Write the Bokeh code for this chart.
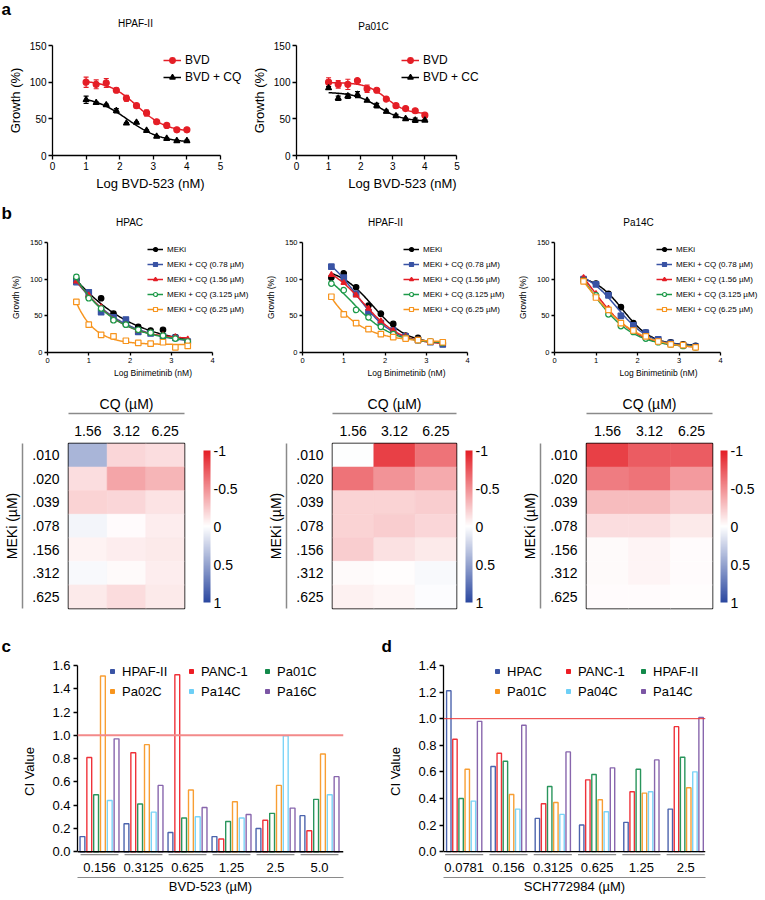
import numpy as np
from bokeh.plotting import figure
from bokeh.models import (ColumnDataSource, Legend, LegendItem, Span, FixedTicker,
                          LinearColorMapper, ColorBar, LinearAxis, Whisker, TeeHead, Range1d,
                          NumeralTickFormatter)
from bokeh.layouts import row, column
from bokeh.core.properties import value
from bokeh.embed import file_html
from bokeh.resources import INLINE

FONT = "Liberation Sans"

# ---------------- panel a data ----------------
a_logdose = [1.0, 1.3, 1.6, 1.9, 2.2, 2.5, 2.8, 3.1, 3.4, 3.7, 4.0]
a_xticks = [0, 1, 2, 3, 4, 5]
a_yticks = [0, 50, 100, 150]
a_hpaf_bvd = [100, 97, 99, 89, 78, 68, 58, 46, 41, 35, 35]
a_hpaf_bvd_err = [7, 6, 6, 3, 4, 2, 4, 2, 2, 1, 1]
a_hpaf_cq = [76, 72, 69, 61, 44, 45, 34, 26, 23, 20, 20]
a_hpaf_cq_err = [5, 1, 1, 3, 1, 1, 1, 1, 1, 1, 1]
a_pa01_bvd = [100, 97, 97, 102, 91, 89, 77, 68, 64, 61, 55]
a_pa01_bvd_err = [6, 5, 7, 1, 5, 2, 2, 2, 2, 2, 2]
a_pa01_cq = [92, 78, 81, 83, 75, 68, 60, 54, 50, 48, 48]
a_pa01_cq_err = [2, 3, 3, 4, 1, 3, 2, 2, 1, 3, 1]

# ---------------- panel b data ----------------
b_logdose = [0.7, 1.0, 1.3, 1.6, 1.9, 2.2, 2.5, 2.8, 3.1, 3.4]
b_xticks = [0, 1, 2, 3, 4]
b_yticks = [0, 50, 100, 150]
b_labels = ["MEKi", "MEKi + CQ (0.78 µM)", "MEKi + CQ (1.56 µM)",
            "MEKi + CQ (3.125 µM)", "MEKi + CQ (6.25 µM)"]
hpac_meki = [100, 76, 74, 53, 39, 35, 30, 31, 21, 14]
hpac_cq078 = [96, 82, 55, 48, 45, 28, 26, 22, 20, 15]
hpac_cq156 = [97, 78, 62, 44, 38, 30, 27, 24, 21, 18]
hpac_cq3125 = [103, 74, 60, 44, 38, 31, 27, 23, 19, 15]
hpac_cq625 = [69, 38, 24, 22, 16, 13, 12, 14, 7, 9]
hpaf_meki = [102, 108, 89, 64, 53, 39, 23, 20, 15, 12]
hpaf_cq078 = [117, 102, 80, 55, 40, 30, 22, 17, 14, 11]
hpaf_cq156 = [106, 95, 78, 60, 43, 30, 22, 17, 14, 12]
hpaf_cq3125 = [94, 85, 58, 48, 35, 25, 20, 17, 15, 13]
hpaf_cq625 = [76, 52, 40, 32, 25, 21, 19, 17, 15, 14]
pa14_meki = [100, 94, 80, 62, 40, 27, 18, 14, 11, 9]
pa14_cq078 = [100, 93, 78, 50, 37, 27, 18, 13, 10, 8]
pa14_cq156 = [102, 80, 60, 38, 30, 20, 15, 11, 9, 7]
pa14_cq3125 = [98, 78, 52, 36, 28, 19, 14, 11, 9, 7]
pa14_cq625 = [97, 75, 58, 40, 30, 22, 15, 11, 10, 7]

# ---------------- heatmap data (rows = MEKi, cols = CQ) ----------------
cq_labels = ["1.56", "3.12", "6.25"]
meki_labels = [".010", ".020", ".039", ".078", ".156", ".312", ".625"]
cbar_ticks = [-1, -0.5, 0, 0.5, 1]
hm_hpac = [[0.40, -0.18, -0.15], [-0.15, -0.40, -0.33], [-0.20, -0.18, -0.13],
           [0.05, -0.02, -0.08], [-0.06, -0.08, -0.10], [0.03, -0.03, -0.08],
           [-0.10, -0.16, -0.10]]
hm_hpaf = [[0.00, -0.85, -0.62], [-0.62, -0.48, -0.38], [-0.20, -0.20, -0.22],
           [-0.20, -0.22, -0.18], [-0.22, -0.14, -0.10], [-0.03, -0.01, 0.03],
           [-0.07, -0.04, 0.01]]
hm_pa14 = [[-0.85, -0.72, -0.72], [-0.58, -0.62, -0.45], [-0.30, -0.30, -0.22],
           [-0.15, -0.15, -0.10], [-0.03, -0.05, -0.02], [-0.03, -0.05, -0.02],
           [-0.02, -0.02, -0.01]]

# ---------------- panel c / d data ----------------
c_doses = ["0.156", "0.3125", "0.625", "1.25", "2.5", "5.0"]
c_lines = ["HPAF-II", "PANC-1", "Pa01C", "Pa02C", "Pa14C", "Pa16C"]
c_hpaf = [0.13, 0.24, 0.165, 0.13, 0.20, 0.31]
c_panc = [0.81, 0.85, 1.52, 0.11, 0.27, 0.18]
c_pa01 = [0.49, 0.41, 0.29, 0.26, 0.33, 0.45]
c_pa02 = [1.51, 0.92, 0.53, 0.43, 0.57, 0.84]
c_pa14 = [0.44, 0.34, 0.30, 0.29, 0.995, 0.49]
c_pa16 = [0.97, 0.57, 0.38, 0.32, 0.375, 0.645]
c_yticks = [0.0, 0.2, 0.4, 0.6, 0.8, 1.0, 1.2, 1.4, 1.6]

d_doses = ["0.0781", "0.156", "0.3125", "0.625", "1.25", "2.5"]
d_lines = ["HPAC", "PANC-1", "HPAF-II", "Pa01C", "Pa04C", "Pa14C"]
d_hpac = [1.21, 0.64, 0.25, 0.20, 0.22, 0.32]
d_panc = [0.845, 0.74, 0.36, 0.54, 0.45, 0.94]
d_hpaf = [0.40, 0.68, 0.49, 0.58, 0.62, 0.71]
d_pa01 = [0.62, 0.43, 0.37, 0.39, 0.44, 0.48]
d_pa04 = [0.38, 0.32, 0.28, 0.30, 0.45, 0.60]
d_pa14 = [0.98, 0.95, 0.75, 0.63, 0.69, 1.01]
d_yticks = [0.0, 0.2, 0.4, 0.6, 0.8, 1.0, 1.2, 1.4]

# panel letters and sub-panel titles
letters = ["a", "b", "c", "d"]
a_titles = ["HPAF-II", "Pa01C"]
b_titles = ["HPAC", "HPAF-II", "Pa14C"]

# ---------------- colours ----------------
RED = "#e41e26"
BLACK = "#000000"
BLUE = "#3953a4"
GREEN = "#1e9a4a"
ORANGE = "#f7941d"
SIX = ["#3953a4", "#ed1c24", "#12894a", "#f7941d", "#6dcff6", "#7b55a4"]

W = 762


def hexc(rgb):
    return "#%02x%02x%02x" % tuple(int(round(v)) for v in rgb)


def ramp(c0, c1, n):
    c0 = np.array(c0, float)
    c1 = np.array(c1, float)
    return [hexc(c0 + (c1 - c0) * t) for t in np.linspace(0, 1, n)]


heat_palette = ramp((228, 30, 38), (255, 255, 255), 128)[:-1] + ramp((255, 255, 255), (43, 72, 160), 129)
heat_mapper = LinearColorMapper(palette=heat_palette, low=-1, high=1)
cbar_mapper = LinearColorMapper(palette=list(reversed(heat_palette)), low=-1, high=1)


def base_fig(w, h, l, r, t, b, xr, yr, **kw):
    p = figure(width=w, height=h, x_range=xr, y_range=yr, output_backend="svg",
               toolbar_location=None, min_border_left=l, min_border_right=r,
               min_border_top=t, min_border_bottom=b, **kw)
    p.grid.visible = False
    p.outline_line_color = None
    p.background_fill_color = "white"
    p.border_fill_color = "white"
    return p


def style_axis(ax, tick_px, label_px, lw=1.3, tick_out=4):
    ax.axis_line_color = "black"
    ax.axis_line_width = lw
    ax.major_tick_line_color = "black"
    ax.major_tick_line_width = lw
    ax.major_tick_in = 0
    ax.major_tick_out = tick_out
    ax.minor_tick_line_color = None
    ax.major_label_text_font = FONT
    ax.major_label_text_font_size = tick_px
    ax.major_label_text_color = "black"
    ax.axis_label_text_font = FONT
    ax.axis_label_text_font_size = label_px
    ax.axis_label_text_font_style = "normal"
    ax.axis_label_text_color = "black"


def strip(h, y0, items):
    """Text strip: items = list of (x, y, text, size, bold, align) in page pixels (y = text middle)."""
    p = figure(width=W, height=h, x_range=Range1d(0, W), y_range=Range1d(y0 + h, y0),
               x_axis_type=None, y_axis_type=None, output_backend="svg",
               toolbar_location=None, min_border=0)
    p.grid.visible = False
    p.outline_line_color = None
    for x, y, txt, size, bold, align in items:
        p.text(x=[x], y=[y], text=[txt], text_font=value(FONT), text_font_size=size,
               text_font_style="bold" if bold else "normal", text_align=align,
               text_baseline="middle", text_color="black")
    return p


def fit_curve(x, y, n=150):
    """Least-squares four-parameter logistic fit of the plotted points."""
    x = np.asarray(x, float)
    y = np.asarray(y, float)
    cs = np.linspace(-1.0, 6.0, 281)[:, None, None]
    hs = np.linspace(0.3, 4.0, 75)[None, :, None]
    with np.errstate(all="ignore"):
        s = 1.0 / (1.0 + 10.0 ** ((x[None, None, :] - cs) * hs))
        sm = s.mean(axis=-1, keepdims=True)
        ym = y.mean()
        var = ((s - sm) ** 2).sum(axis=-1, keepdims=True)
        bb = ((s - sm) * (y - ym)).sum(axis=-1, keepdims=True) / var
        aa = ym - bb * sm
        sse = ((y - aa - bb * s) ** 2).sum(axis=-1)
    sse = np.where(np.isfinite(sse) & (var[..., 0] > 1e-6), sse, np.inf)
    i, j = np.unravel_index(np.argmin(sse), sse.shape)
    c = cs[i, 0, 0]
    h = hs[0, j, 0]
    A = aa[i, j, 0]
    B = bb[i, j, 0]
    xs = np.linspace(x.min(), x.max(), n)
    ys = A + B / (1.0 + 10.0 ** ((xs - c) * h))
    return xs, ys


def dose_panel(w, h, l, t, b, axis_px, xmax, xticks, yticks, xlab, tick_px, lab_px, tick_out,
               xdata, series, legend_xy, leg, msize, xl_standoff, yl_standoff):
    frame_w = w - l
    x_end = xmax * frame_w / axis_px
    p = base_fig(w, h, l, 0, t, b, Range1d(0, x_end), Range1d(0, 150))
    p.xaxis.ticker = FixedTicker(ticks=xticks)
    p.yaxis.ticker = FixedTicker(ticks=yticks)
    p.xaxis.bounds = (0, xmax)
    p.xaxis.axis_label = xlab
    p.yaxis.axis_label = "Growth (%)"
    for ax in p.axis:
        style_axis(ax, tick_px, lab_px, lw=1.3, tick_out=tick_out)
        ax.major_label_standoff = 2
    p.xaxis.axis_label_standoff = xl_standoff
    p.yaxis.axis_label_standoff = yl_standoff
    items = []
    for label, ys, err, color, marker, filled in series:
        xs_f, ys_f = fit_curve(xdata, ys)
        ln = p.line(xs_f, ys_f, line_color=color, line_width=1.5)
        d = dict(x=xdata, y=ys)
        if err is not None:
            d["lo"] = [v - e for v, e in zip(ys, err)]
            d["hi"] = [v + e for v, e in zip(ys, err)]
        src = ColumnDataSource(d)
        if err is not None:
            p.add_layout(Whisker(source=src, base="x", upper="hi", lower="lo",
                                 line_color=color, line_width=1.2,
                                 upper_head=TeeHead(size=5, line_color=color, line_width=1.2),
                                 lower_head=TeeHead(size=5, line_color=color, line_width=1.2)))
        sc = p.scatter("x", "y", source=src, marker=marker, size=msize,
                       fill_color=color if filled else "white", line_color=color,
                       line_width=1.2)
        items.append(LegendItem(label=label, renderers=[ln, sc]))
    lg = Legend(items=items, location=legend_xy, orientation="vertical",
                label_text_font=FONT, label_text_font_size=leg["font"],
                label_text_color="black", glyph_width=leg["gw"], glyph_height=leg["gh"],
                label_height=leg["lh"], spacing=leg["sp"], label_standoff=leg["st"],
                padding=0, margin=0, border_line_color=None, background_fill_alpha=0)
    p.add_layout(lg)
    return p


# ---------------- strip above row a (page y 0..33) ----------------
strip_a = strip(33, 0, [(1, 9, letters[0], "17px", True, "left"),
                        (135, 23, a_titles[0], "10px", False, "center"),
                        (373, 26, a_titles[1], "10px", False, "center")])

# ---------------- row a (page y 33..200) ----------------
leg_a = dict(font="12px", gw=18, gh=14, lh=14, sp=3, st=4)
a1 = dose_panel(248, 167, 52, 11, 45, 168, 5, a_xticks, a_yticks, "Log BVD-523 (nM)",
                "10px", "13px", 4, a_logdose,
                [("BVD", a_hpaf_bvd, a_hpaf_bvd_err, RED, "circle", True),
                 ("BVD + CQ", a_hpaf_cq, a_hpaf_cq_err, BLACK, "triangle", True)],
                (111, 71), leg_a, 6, 3, 4)
a2 = dose_panel(260, 167, 42, 12, 45, 165, 5, a_xticks, a_yticks, "Log BVD-523 (nM)",
                "10px", "13px", 4, a_logdose,
                [("BVD", a_pa01_bvd, a_pa01_bvd_err, RED, "circle", True),
                 ("BVD + CC", a_pa01_cq, a_pa01_cq_err, BLACK, "triangle", True)],
                (105, 71), leg_a, 6, 3, 4)

# ---------------- strip above row b (page y 200..230) ----------------
strip_b = strip(30, 200, [(1, 213, letters[1], "17px", True, "left"),
                          (129, 222, b_titles[0], "10px", False, "center"),
                          (385, 222, b_titles[1], "10px", False, "center"),
                          (638, 222, b_titles[2], "10px", False, "center")])

# ---------------- row b (page y 230..385) ----------------
leg_b = dict(font="8px", gw=16, gh=10, lh=10, sp=5, st=4)
b_style = [(BLACK, "circle", True), (BLUE, "square", True), (RED, "triangle", True),
           (GREEN, "circle", False), (ORANGE, "square", False)]


def b_series(vals):
    return [(lab, v, None, st[0], st[1], st[2]) for lab, v, st in zip(b_labels, vals, b_style)]


b1 = dose_panel(258, 155, 47, 12, 33, 165, 4, b_xticks, b_yticks, "Log Binimetinib (nM)",
                "7.5px", "8.5px", 3, b_logdose,
                b_series([hpac_meki, hpac_cq078, hpac_cq156, hpac_cq3125, hpac_cq625]),
                (100, 38), leg_b, 5.5, 2, 6)
b2 = dose_panel(252, 155, 44, 11, 33, 165, 4, b_xticks, b_yticks, "Log Binimetinib (nM)",
                "7.5px", "8.5px", 3, b_logdose,
                b_series([hpaf_meki, hpaf_cq078, hpaf_cq156, hpaf_cq3125, hpaf_cq625]),
                (101, 38), leg_b, 5.5, 2, 6)
b3 = dose_panel(252, 155, 44, 11, 33, 166, 4, b_xticks, b_yticks, "Log Binimetinib (nM)",
                "7.5px", "8.5px", 3, b_logdose,
                b_series([pa14_meki, pa14_cq078, pa14_cq156, pa14_cq3125, pa14_cq625]),
                (102, 38), leg_b, 5.5, 2, 6)


# ---------------- row heatmaps (page y 385..625) ----------------
def heat_panel(values, w, l, r, t, b, cbx):
    ncol = len(cq_labels)
    nrow = len(meki_labels)
    p = base_fig(w, 240, l, r, t, b, Range1d(0, ncol), Range1d(0, nrow),
                 x_axis_location="above")
    xs, ys, vs = [], [], []
    for j, rv in enumerate(values):
        for i, v in enumerate(rv):
            xs.append(i + 0.5)
            ys.append(nrow - j - 0.5)
            vs.append(v)
    src = ColumnDataSource(dict(x=xs, y=ys, v=vs))
    p.rect("x", "y", width=1, height=1, source=src,
           fill_color={"field": "v", "transform": heat_mapper},
           line_color={"field": "v", "transform": heat_mapper}, line_width=0.6)
    p.outline_line_color = "black"
    p.outline_line_width = 1.5

    ax_t = p.xaxis[0]
    style_axis(ax_t, "14px", "3px")
    ax_t.ticker = FixedTicker(ticks=[i + 0.5 for i in range(ncol)])
    ax_t.major_label_overrides = {i + 0.5: lab for i, lab in enumerate(cq_labels)}
    ax_t.axis_line_color = None
    ax_t.major_tick_line_color = None
    ax_t.major_label_standoff = 4
    ax_t.axis_label = " "
    ax_t.axis_label_standoff = 3
    ax_t2 = LinearAxis(ticker=FixedTicker(ticks=[]), axis_label="CQ (µM)")
    style_axis(ax_t2, "14px", "14px", lw=1.5, tick_out=0)
    ax_t2.axis_line_color = "#8a8a8a"
    ax_t2.major_tick_line_color = None
    ax_t2.major_label_standoff = 0
    ax_t2.axis_label_standoff = 2
    p.add_layout(ax_t2, "above")

    ax_l = p.yaxis[0]
    style_axis(ax_l, "14px", "2px")
    ax_l.ticker = FixedTicker(ticks=[nrow - j - 0.5 for j in range(nrow)])
    ax_l.major_label_overrides = {nrow - j - 0.5: lab for j, lab in enumerate(meki_labels)}
    ax_l.axis_line_color = None
    ax_l.major_tick_line_color = None
    ax_l.major_label_standoff = 5
    ax_l.axis_label = " "
    ax_l.axis_label_standoff = 2
    ax_l2 = LinearAxis(ticker=FixedTicker(ticks=[]), axis_label="MEKi (µM)")
    style_axis(ax_l2, "14px", "14px", lw=1.5, tick_out=0)
    ax_l2.axis_line_color = "#8a8a8a"
    ax_l2.major_tick_line_color = None
    ax_l2.major_label_standoff = 0
    ax_l2.axis_label_standoff = 3
    p.add_layout(ax_l2, "left")

    cb = ColorBar(color_mapper=cbar_mapper, location=(cbx, 6), width=7, height=152,
                  padding=0, margin=0, ticker=FixedTicker(ticks=cbar_ticks),
                  major_label_overrides={v: ("%g" % (-v)) for v in cbar_ticks},
                  major_label_text_font=FONT, major_label_text_font_size="14px",
                  major_label_text_color="black", label_standoff=3,
                  major_tick_line_color=None, minor_tick_line_color=None,
                  bar_line_color=None, border_line_color=None, background_fill_alpha=0)
    p.add_layout(cb)
    return p


h1 = heat_panel(hm_hpac, 258, 62, 74, 58, 17, 135)
h2 = heat_panel(hm_hpaf, 252, 74, 54, 58, 17, 133)
h3 = heat_panel(hm_pa14, 252, 76, 50, 58, 17, 134)

# ---------------- strip above row c/d (page y 625..657) ----------------
strip_c = strip(32, 625, [(1, 646, letters[2], "17px", True, "left"),
                          (381, 646, letters[3], "17px", True, "left")])


# ---------------- row c / d (page y 657..896) ----------------
def bar_panel(w, l, r, t, b, doses, names, vals_list, ymax, yticks, xr, step, bw, half,
              ref_color, ref_width, legend_x, legend_y, xlabel):
    H = 239
    frame_h = H - t - b
    zero_px = 26
    ppu = (frame_h - zero_px) / ymax
    ymin = -zero_px / ppu
    p = base_fig(w, H, l, r, t, b, Range1d(*xr), Range1d(ymin, ymax))
    groups = np.arange(len(doses), dtype=float)
    n = len(names)
    for k, (vals, col) in enumerate(zip(vals_list, SIX)):
        xs = groups + (k - (n - 1) / 2.0) * step
        p.vbar(x=xs, top=vals, bottom=0, width=bw, fill_color="white",
               line_color=col, line_width=1.4, line_alpha=0.9)
    p.add_layout(Span(location=1.0, dimension="width", line_color=ref_color,
                      line_width=ref_width))
    p.add_layout(Span(location=0, dimension="width", line_color="black", line_width=1.4))
    yu = -3.0 / ppu
    p.segment(x0=groups - half, x1=groups + half, y0=[yu] * len(doses), y1=[yu] * len(doses),
              line_color="#8a8a8a", line_width=1.2)
    p.text(x=groups, y=[-16.0 / ppu] * len(doses), text=doses, text_font=value(FONT),
           text_font_size="13px", text_align="center", text_baseline="middle",
           text_color="black")
    ya = p.yaxis[0]
    style_axis(ya, "13px", "13px", lw=1.3, tick_out=4)
    ya.ticker = FixedTicker(ticks=yticks)
    ya.formatter = NumeralTickFormatter(format="0.0")
    ya.bounds = (0, ymax)
    ya.major_label_standoff = 3
    ya.axis_label = "CI Value"
    ya.axis_label_standoff = 12
    xa = p.xaxis[0]
    style_axis(xa, "13px", "13px", lw=1.2, tick_out=0)
    xa.ticker = FixedTicker(ticks=[])
    xa.axis_line_color = "#8a8a8a"
    xa.major_tick_line_color = None
    xa.major_label_standoff = 0
    xa.axis_label = xlabel
    xa.axis_label_standoff = 1
    # legend: three columns of two entries
    rends = []
    for name, col in zip(names, SIX):
        r_ = p.scatter(x=[np.nan], y=[np.nan], marker="square", size=10,
                       fill_color=col, line_color=col)
        rends.append(LegendItem(label=name, renderers=[r_]))
    for ci in range(3):
        lg = Legend(items=[rends[ci], rends[ci + 3]], location=(legend_x[ci], legend_y),
                    orientation="vertical", label_text_font=FONT,
                    label_text_font_size="13px", label_text_color="black",
                    glyph_width=10, glyph_height=12, label_height=16, spacing=4,
                    label_standoff=5, padding=0, margin=0, border_line_color=None,
                    background_fill_alpha=0)
        p.add_layout(lg)
    return p


c = bar_panel(380, 77, 37, 7, 18, c_doses, c_lines,
              [c_hpaf, c_panc, c_pa01, c_pa02, c_pa14, c_pa16], 1.6, c_yticks,
              (-0.5, 5.545), 0.155, 0.11, 0.43, "#f38a8a", 2.0, (30, 109, 185), 178,
              "BVD-523 (µM)")
d = bar_panel(382, 63, 57, 8, 18, d_doses, d_lines,
              [d_hpac, d_panc, d_hpaf, d_pa01, d_pa04, d_pa14], 1.4, d_yticks,
              (-0.467, 5.447), 0.139, 0.10, 0.43, "#ee3333", 1.0, (49, 120, 195), 178,
              "SCH772984 (µM)")

layout = column(strip_a, row(a1, a2), strip_b, row(b1, b2, b3), row(h1, h2, h3),
                strip_c, row(c, d))

with open("out.html", "w") as f:
    f.write(file_html(layout, INLINE, title="figure"))
